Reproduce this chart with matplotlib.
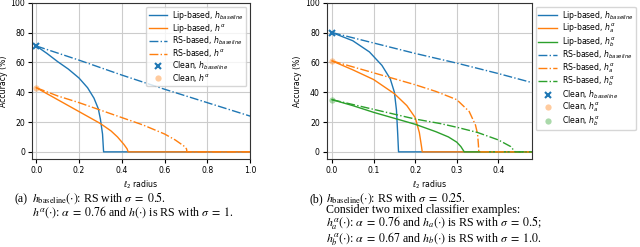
import matplotlib
matplotlib.use('Agg')
import matplotlib.pyplot as plt

# ---------------- data: panel (a) ----------------
a_lip_base_x = [0, 0.05, 0.1, 0.15, 0.2, 0.24, 0.27, 0.29, 0.30, 0.31, 0.315, 1.05]
a_lip_base_y = [71, 66, 60.5, 55.5, 49.5, 43, 36, 29, 22, 12, 0, 0]
a_lip_alpha_x = [0, 0.1, 0.2, 0.3, 0.35, 0.38, 0.41, 0.425, 0.43, 1.05]
a_lip_alpha_y = [43, 35, 27, 19, 14, 10, 5, 2, 0, 0]
a_rs_base_x = [0, 0.2, 0.4, 0.6, 0.8, 1.0, 1.05]
a_rs_base_y = [71, 61.5, 51.5, 42, 33, 24, 21.8]
a_rs_alpha_x = [0, 0.1, 0.2, 0.3, 0.4, 0.5, 0.6, 0.65, 0.69, 0.703, 0.705, 1.05]
a_rs_alpha_y = [43, 37.5, 33, 28, 23, 18, 12, 8, 4, 2, 0, 0]
a_clean = [71, 43]

# ---------------- data: panel (b) ----------------
b_lip_base_x = [0, 0.05, 0.09, 0.12, 0.14, 0.15, 0.155, 0.158, 0.16, 0.5]
b_lip_base_y = [80, 74.5, 67, 58, 49, 40, 28, 12, 0, 0]
b_lip_a_x = [0, 0.05, 0.1, 0.15, 0.18, 0.2, 0.21, 0.215, 0.217, 0.5]
b_lip_a_y = [61, 55, 48.5, 39, 31, 23, 13, 4, 0, 0]
b_lip_b_x = [0, 0.05, 0.1, 0.15, 0.2, 0.25, 0.28, 0.3, 0.31, 0.318, 0.5]
b_lip_b_y = [35, 31, 26.5, 22.5, 18.5, 13.5, 10, 6.5, 3.5, 0, 0]
b_rs_base_x = [0, 0.1, 0.2, 0.3, 0.4, 0.48, 0.5]
b_rs_base_y = [80, 73, 66, 59.5, 52.5, 46.5, 45]
b_rs_a_x = [0, 0.1, 0.2, 0.25, 0.3, 0.33, 0.345, 0.35, 0.352, 0.353, 0.5]
b_rs_a_y = [61, 53, 45, 40.5, 35, 27, 18, 12, 5, 0, 0]
b_rs_b_x = [0, 0.1, 0.2, 0.26, 0.3, 0.35, 0.4, 0.43, 0.44, 0.5]
b_rs_b_y = [35, 28.5, 22, 19, 16.5, 13, 8, 3.5, 0, 0]
b_clean = [80, 61, 35]

yticks = [0, 20, 40, 60, 80, 100]
a_xticks = [0.0, 0.2, 0.4, 0.6, 0.8, 1.0]
b_xticks = [0.0, 0.1, 0.2, 0.3, 0.4]

FS = 5.6
plt.rcParams['font.size'] = FS

fig = plt.figure(figsize=(6.4, 2.47), dpi=100)
axA = fig.add_axes([0.05, 0.355, 0.3406, 0.634])
axB = fig.add_axes([0.5105, 0.355, 0.3208, 0.634])

LW = 1.0
# panel (a)
axA.plot(a_lip_base_x, a_lip_base_y, '-', color='C0', lw=LW, label='Lip-based, $h_{baseline}$')
axA.plot(a_lip_alpha_x, a_lip_alpha_y, '-', color='C1', lw=LW, label='Lip-based, $h^{\\alpha}$')
axA.plot(a_rs_base_x, a_rs_base_y, '-.', color='C0', lw=LW, label='RS-based, $h_{baseline}$')
axA.plot(a_rs_alpha_x, a_rs_alpha_y, '-.', color='C1', lw=LW, label='RS-based, $h^{\\alpha}$')
axA.plot([0], [a_clean[0]], 'x', color='C0', ms=4, mew=1.5, label='Clean, $h_{baseline}$')
axA.plot([0], [a_clean[1]], 'o', color='C1', ms=4.5, alpha=0.4, mew=0, label='Clean, $h^{\\alpha}$')
axA.set_xlim(-0.02, 1.0)

# panel (b)
axB.plot(b_lip_base_x, b_lip_base_y, '-', color='C0', lw=LW, label='Lip-based, $h_{baseline}$')
axB.plot(b_lip_a_x, b_lip_a_y, '-', color='C1', lw=LW, label='Lip-based, $h^{\\alpha}_{a}$')
axB.plot(b_lip_b_x, b_lip_b_y, '-', color='C2', lw=LW, label='Lip-based, $h^{\\alpha}_{b}$')
axB.plot(b_rs_base_x, b_rs_base_y, '-.', color='C0', lw=LW, label='RS-based, $h_{baseline}$')
axB.plot(b_rs_a_x, b_rs_a_y, '-.', color='C1', lw=LW, label='RS-based, $h^{\\alpha}_{a}$')
axB.plot(b_rs_b_x, b_rs_b_y, '-.', color='C2', lw=LW, label='RS-based, $h^{\\alpha}_{b}$')
axB.plot([0], [b_clean[0]], 'x', color='C0', ms=4, mew=1.5, label='Clean, $h_{baseline}$')
axB.plot([0], [b_clean[1]], 'o', color='C1', ms=4.5, alpha=0.4, mew=0, label='Clean, $h^{\\alpha}_{a}$')
axB.plot([0], [b_clean[2]], 'o', color='C2', ms=4.5, alpha=0.4, mew=0, label='Clean, $h^{\\alpha}_{b}$')
axB.set_xlim(-0.0127, 0.481)

for ax, xt in ((axA, a_xticks), (axB, b_xticks)):
    ax.set_ylim(-5, 100)
    ax.set_yticks(yticks)
    ax.set_xticks(xt)
    ax.set_xticklabels([f'{v:.1f}' for v in xt])
    ax.grid(True, color='#cccccc', lw=0.8)
    ax.set_axisbelow(True)
    ax.set_xlabel('$\\ell_2$ radius', labelpad=2)
    ax.set_ylabel('Accuracy (%)', labelpad=2)
    ax.tick_params(length=3, width=0.8, pad=2)
    for s in ax.spines.values():
        s.set_color('#333333')

leg_kw = dict(handlelength=2.4, labelspacing=0.0, borderpad=0.3, handletextpad=0.6)
axA.legend(loc='upper right', borderaxespad=0.5, framealpha=0.8, **leg_kw)
axB.legend(loc='upper left', bbox_to_anchor=(1.0, 1.0), borderaxespad=0.5, **leg_kw)

# captions: label "(a)"/"(b)" plus one multi-line block each (hanging indent)
CFS = 8.6
cap_kw = dict(fontsize=CFS, family='Liberation Serif', math_fontfamily='stix', ha='left')
cap_a = ('$h_{\\mathrm{baseline}}(\\cdot)$: RS with $\\sigma\\;=\\;0.5$.\n'
         '$h^{\\alpha}(\\cdot)$: $\\alpha\\;=\\;0.76$ and $h(\\cdot)$ is RS with $\\sigma\\;=\\;1$.')
cap_b = ('$h_{\\mathrm{baseline}}(\\cdot)$: RS with $\\sigma\\;=\\;0.25$.\n'
         'Consider two mixed classifier examples:\n'
         '$h^{\\alpha}_{a}(\\cdot)$: $\\alpha\\;=\\;0.76$ and $h_a(\\cdot)$ is RS with $\\sigma\\;=\\;0.5$;\n'
         '$h^{\\alpha}_{b}(\\cdot)$: $\\alpha\\;=\\;0.67$ and $h_b(\\cdot)$ is RS with $\\sigma\\;=\\;1.0$.')
fig.text(14.5/640, 1 - 202.5/247, '(a)', va='baseline', **cap_kw)
fig.text(309/640, 1 - 202.5/247, '(b)', va='baseline', **cap_kw)
fig.text(32/640, 1 - 190/247, cap_a, va='top', linespacing=0.85, **cap_kw)
fig.text(326.5/640, 1 - 190/247, cap_b, va='top', linespacing=0.85, **cap_kw)

fig.savefig('out.png', dpi=100)
